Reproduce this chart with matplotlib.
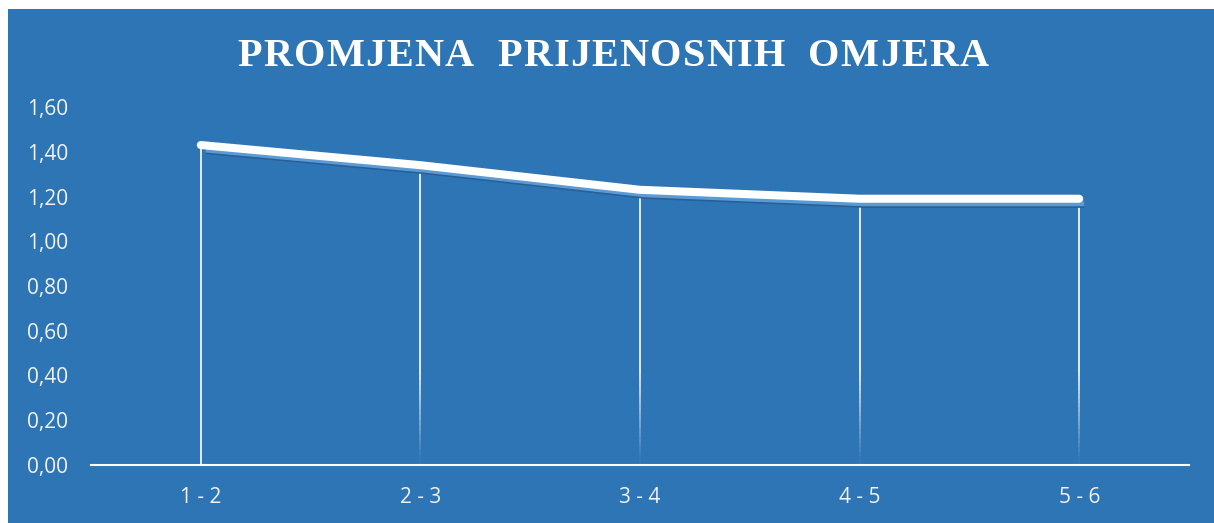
import numpy as np
import matplotlib
matplotlib.use("Agg")
import matplotlib.pyplot as plt
from matplotlib.patches import Rectangle
from matplotlib.collections import LineCollection
import matplotlib.transforms as mtransforms

categories = ["1 - 2", "2 - 3", "3 - 4", "4 - 5", "5 - 6"]
ratios = [1.43, 1.34, 1.23, 1.19, 1.19]
y_ticks = [0.0, 0.2, 0.4, 0.6, 0.8, 1.0, 1.2, 1.4, 1.6]
y_tick_labels = ["0,00", "0,20", "0,40", "0,60", "0,80", "1,00", "1,20", "1,40", "1,60"]
title = "PROMJENA  PRIJENOSNIH  OMJERA"

BG = "#2E75B6"
W, H = 1214, 523
fig = plt.figure(figsize=(W / 100, H / 100), dpi=100, facecolor="white")
fig.patches.append(Rectangle((8 / W, 0), 1 - 8 / W, 1 - 9 / H, transform=fig.transFigure,
                             facecolor=BG, edgecolor="none", zorder=0))

ax = fig.add_axes([91 / W, 58 / H, 1098 / W, (416 - 58) / H])
ax.set_zorder(2)
ax.set_facecolor("none")
x = np.arange(len(categories))
ax.set_xlim(-0.5, len(categories) - 0.5)
ax.set_ylim(0, 1.6)

# drop lines with fading
for i, (xi, yi) in enumerate(zip(x, ratios)):
    n = 60
    ys = np.linspace(0, yi, n + 1)
    segs = [[(xi, ys[k]), (xi, ys[k + 1])] for k in range(n)]
    if i == 0:
        alphas = np.ones(n)
    else:
        mid = 0.5 * (ys[:-1] + ys[1:])
        alphas = np.clip((mid - 0.02) / 0.4, 0.03, 1.0)
    cols = [(1, 1, 1, a) for a in alphas]
    ax.add_collection(LineCollection(segs, colors=cols, linewidths=1.2, zorder=2))

# shadow
sh1 = mtransforms.offset_copy(ax.transData, fig=fig, x=5, y=-8, units="dots")
sh2 = mtransforms.offset_copy(ax.transData, fig=fig, x=5, y=-5, units="dots")
ax.plot(x, ratios, color="#285F96", lw=1.6, transform=sh1, zorder=3, solid_capstyle="butt")
ax.plot(x, ratios, color="#5B9BD5", lw=3.6, transform=sh2, zorder=3, solid_capstyle="butt")
ax.plot(x, ratios, color="white", lw=5.8, zorder=4, solid_capstyle="round", solid_joinstyle="round")

for s in ["top", "right", "left"]:
    ax.spines[s].set_visible(False)
ax.spines["bottom"].set_color("white")
ax.spines["bottom"].set_linewidth(1.5)
ax.spines["bottom"].set_zorder(5)

ax.set_xticks(x)
ax.set_xticklabels(categories)
ax.set_yticks(y_ticks)
ax.set_yticklabels(y_tick_labels)
ax.tick_params(axis="both", length=0, colors="#F2F2F2", labelsize=15)
ax.tick_params(axis="x", pad=16)
ax.tick_params(axis="y", pad=16.5)
for lab in ax.get_xticklabels() + ax.get_yticklabels():
    lab.set_fontfamily("Open Sans")

# title with letter spacing
renderer = fig.canvas.get_renderer()
tracking = 1.2  # px between letters
fs = 29
widths = []
for ch in title:
    t = fig.text(0, 0, ch if ch != " " else "n", fontsize=fs, fontweight="bold",
                 fontfamily="Liberation Serif")
    w = t.get_window_extent(renderer).width
    if ch == " ":
        w *= 0.45
    widths.append(w)
    t.remove()
total = sum(widths) + tracking * (len(title) - 1)
cx, cy = 613, H - 56
xpos = cx - total / 2
for ch, w in zip(title, widths):
    if ch != " ":
        fig.text(xpos / W, cy / H, ch, ha="left", va="center", color="white",
                 fontsize=fs, fontweight="bold", fontfamily="Liberation Serif")
    xpos += w + tracking

fig.savefig("out.png", dpi=100, facecolor="white")
